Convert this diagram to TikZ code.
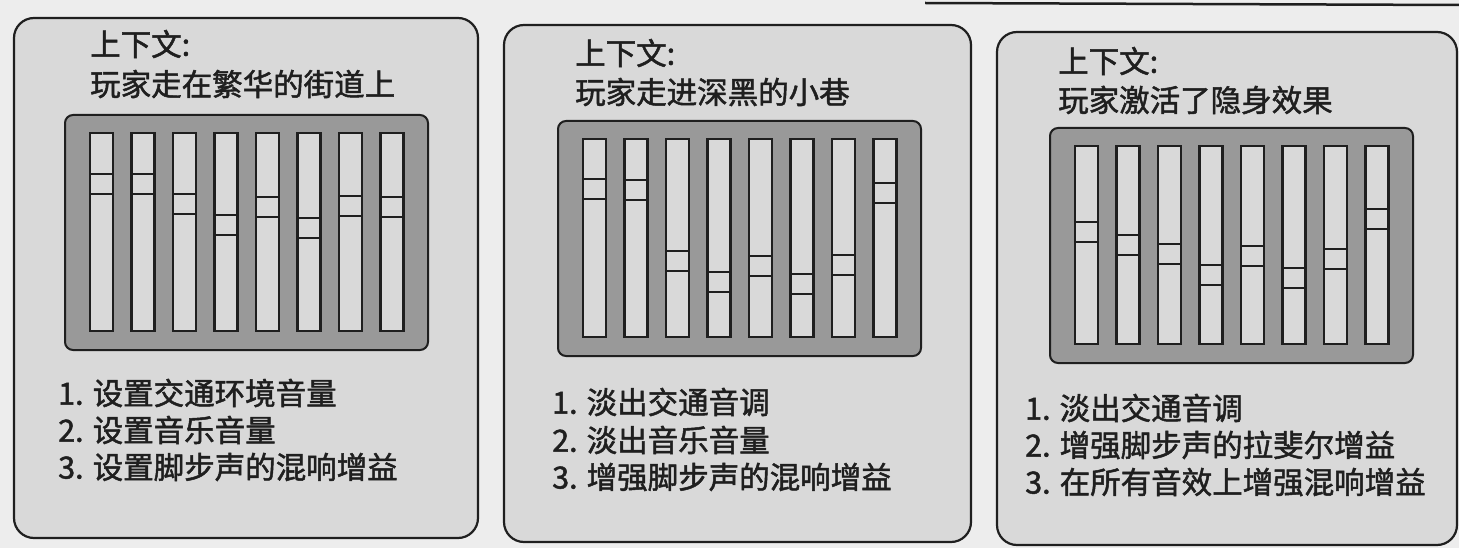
\documentclass[tikz,border=0pt]{standalone}
\usepackage{fontspec}
\setmainfont{Noto Sans CJK SC}[FakeBold=1.6]
\definecolor{pagebg}{gray}{0.93}
\definecolor{panelfill}{gray}{0.85}
\definecolor{boardfill}{gray}{0.6}
\definecolor{inkgray}{gray}{0.12}
\tikzset{
  panel/.style={draw=inkgray,line width=2.2pt,fill=panelfill,rounded corners=20pt},
  board/.style={draw=inkgray,line width=2pt,fill=boardfill,rounded corners=8pt},
  fader/.style={draw=inkgray,line width=2.6pt,fill=panelfill},
  caption/.style={anchor=west,inner sep=0pt,text=inkgray,font=\fontsize{30.5}{36}\selectfont},
}
% one mixing desk: #1,#2 = top left corner, #3 = knob offsets from fader top
\newcommand{\mixdesk}[3]{%
  \draw[board] (#1,#2) rectangle ++(363,235);
  \foreach \k [count=\i from 0] in {#3} {
    \draw[fader] (#1+25+41.5*\i,#2+18) rectangle ++(23,198);
    \draw[inkgray,line width=2.4pt] (#1+25+41.5*\i,#2+18+\k) -- ++(23,0)
      (#1+25+41.5*\i,#2+38+\k) -- ++(23,0);
  }
}
\begin{document}
\begin{tikzpicture}[x=1pt,y=-1pt]
\useasboundingbox (0,0) rectangle (1459,548);
\fill[pagebg] (0,0) rectangle (1459,548);
\draw[inkgray,line width=2.5pt] (925,3) -- (1459,5);

% street
\draw[panel] (14,18) rectangle (478,538);
\node[caption] (ctx1) at (90,44) {上下文:};
\node[caption] (scene1) at (90,84) {玩家走在繁华的街道上};
\mixdesk{65}{115}{41,41,61,82,64,85,63,64}
\node[caption] (act1a) at (58,393) {1. 设置交通环境音量};
\node[caption] (act1b) at (58,430) {2. 设置音乐音量};
\node[caption] (act1c) at (58,467) {3. 设置脚步声的混响增益};

% alley
\draw[panel] (504,25) rectangle (971,542);
\node[caption] (ctx2) at (575,53) {上下文:};
\node[caption] (scene2) at (575,92) {玩家走进深黑的小巷};
\mixdesk{558}{121}{40,41,112,133,117,135,116,44}
\node[caption] (act2a) at (552,402) {1. 淡出交通音调};
\node[caption] (act2b) at (552,440) {2. 淡出音乐音量};
\node[caption] (act2c) at (552,477) {3. 增强脚步声的混响增益};

% stealth
\draw[panel] (997,32) rectangle (1457,545);
\node[caption] (ctx3) at (1058,61) {上下文:};
\node[caption] (scene3) at (1058,100) {玩家激活了隐身效果};
\mixdesk{1050}{128}{76,89,98,119,100,122,103,63}
\node[caption] (act3a) at (1025,408) {1. 淡出交通音调};
\node[caption] (act3b) at (1025,445) {2. 增强脚步声的拉斐尔增益};
\node[caption] (act3c) at (1025,482) {3. 在所有音效上增强混响增益};
\end{tikzpicture}
\end{document}
